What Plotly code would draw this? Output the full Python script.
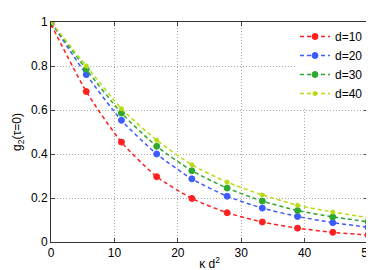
import plotly.graph_objects as go

kappa_d2 = [0, 5.56, 11.11, 16.67, 22.22, 27.78, 33.33, 38.89, 44.44, 50]
g2_d10 = [0.99, 0.684, 0.454, 0.297, 0.198, 0.133, 0.091, 0.063, 0.044, 0.032]
g2_d20 = [1.0, 0.761, 0.553, 0.400, 0.287, 0.208, 0.154, 0.116, 0.088, 0.067]
g2_d30 = [1.0, 0.785, 0.586, 0.435, 0.324, 0.245, 0.186, 0.143, 0.114, 0.092]
g2_d40 = [1.0, 0.800, 0.606, 0.463, 0.351, 0.272, 0.214, 0.167, 0.136, 0.111]
series_names = ["d=10", "d=20", "d=30", "d=40"]
series_colors = ["#ff2020", "#3d5cff", "#2ea82e", "#b8dc10"]
series_values = [g2_d10, g2_d20, g2_d30, g2_d40]
marker_sizes = [6, 6, 6, 4]

x_ticks = [0, 10, 20, 30, 40, 50]
y_ticks = [0, 0.2, 0.4, 0.6, 0.8, 1]
y_tick_labels = ["0", "0.2", "0.4", "0.6", "0.8", "1"]

fig = go.Figure()
for name, col, vals, ms in zip(series_names, series_colors, series_values, marker_sizes):
    fig.add_trace(go.Scatter(
        x=kappa_d2, y=vals, name=name, mode="lines+markers",
        line=dict(color=col, width=1.5, dash="4px,3px", shape="spline", smoothing=0.6),
        marker=dict(symbol="circle", size=ms, color=col, line=dict(color=col, width=1)),
        cliponaxis=True,
    ))

font = "Liberation Sans, Arial, sans-serif"
fig.update_layout(
    width=374, height=270,
    margin=dict(l=43, r=7, t=7, b=36),
    paper_bgcolor="white", plot_bgcolor="white",
    font=dict(family=font, size=12, color="#000000"),
    showlegend=True,
    legend=dict(x=1.0, y=1.0, xanchor="right", yanchor="top",
                bgcolor="white", bordercolor="#333333", borderwidth=0,
                font=dict(size=12), itemwidth=30, tracegroupgap=0),
)
fig.update_xaxes(
    range=[0, 50], tickvals=x_ticks, ticks="inside", ticklen=4,
    showline=True, linecolor="#333333", linewidth=1, mirror="ticks",
    showgrid=True, gridcolor="#aaaaaa", griddash="1px,2px", gridwidth=1,
    zeroline=False, tickfont=dict(size=12),
    title=dict(text="κ d<sup>2</sup>", font=dict(size=12), standoff=0),
)
fig.update_yaxes(
    range=[0, 1], tickvals=y_ticks, ticktext=y_tick_labels, ticks="inside", ticklen=4,
    showline=True, linecolor="#333333", linewidth=1, mirror="ticks",
    showgrid=True, gridcolor="#aaaaaa", griddash="1px,2px", gridwidth=1,
    zeroline=False, tickfont=dict(size=12),
    title=dict(text="g<sub>2</sub>(τ=0)", font=dict(size=12), standoff=6),
)
fig.write_html("out.html")
